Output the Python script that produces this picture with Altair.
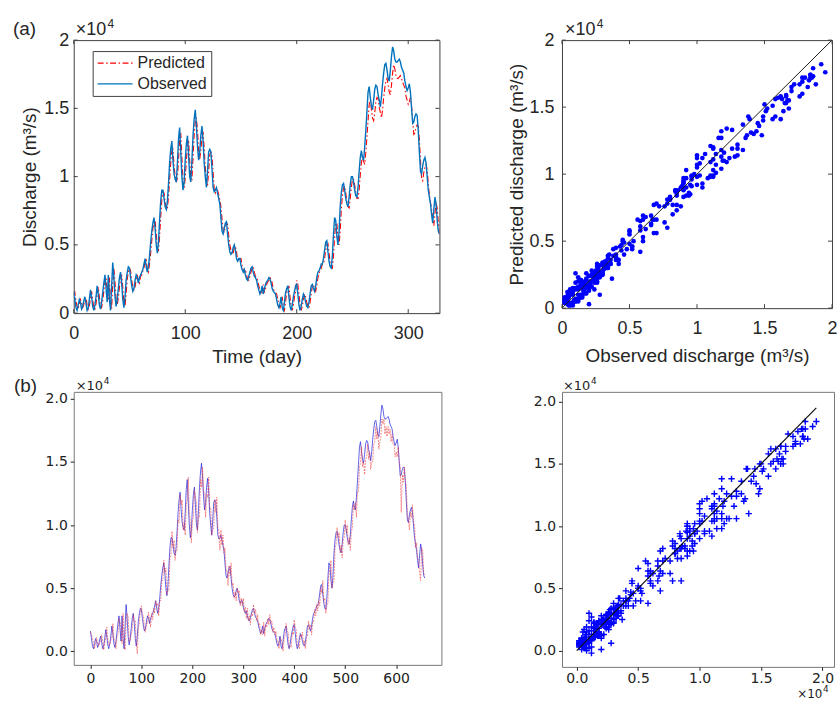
import altair as alt
import pandas as pd

# ---------------- data (discharge in units of 10^4 m^3/s) ----------------
observed = [
    0.16, 0.10, 0.04, 0.02, 0.06, 0.10, 0.08, 0.03, 0.05, 0.09,
    0.12, 0.07, 0.02, 0.04, 0.10, 0.17, 0.12, 0.05, 0.02, 0.06,
    0.12, 0.20, 0.14, 0.06, 0.03, 0.08, 0.15, 0.22, 0.28, 0.18,
    0.08, 0.28, 0.10, 0.02, 0.20, 0.37, 0.26, 0.12, 0.05, 0.10,
    0.18, 0.26, 0.30, 0.22, 0.10, 0.04, 0.12, 0.24, 0.30, 0.34,
    0.33, 0.26, 0.20, 0.16, 0.18, 0.24, 0.28, 0.26, 0.22, 0.26,
    0.28, 0.30, 0.32, 0.36, 0.40, 0.34, 0.30, 0.34, 0.42, 0.52,
    0.60, 0.66, 0.70, 0.62, 0.50, 0.44, 0.52, 0.68, 0.82, 0.90,
    0.90, 0.84, 0.78, 0.76, 0.82, 0.95, 1.10, 1.20, 1.26, 1.12,
    1.02, 0.98, 0.96, 1.10, 1.28, 1.36, 1.18, 1.00, 0.90, 0.96,
    1.12, 1.24, 1.30, 1.16, 1.00, 0.96, 1.12, 1.30, 1.42, 1.49,
    1.38, 1.22, 1.12, 1.18, 1.30, 1.37, 1.26, 1.10, 1.00, 0.92,
    1.04, 1.18, 1.20, 1.18, 1.06, 0.92, 0.89, 0.90, 0.92, 0.88,
    0.84, 0.80, 0.70, 0.60, 0.58, 0.62, 0.66, 0.67, 0.58, 0.50,
    0.45, 0.43, 0.44, 0.48, 0.50, 0.46, 0.40, 0.38, 0.40, 0.40,
    0.35, 0.32, 0.30, 0.32, 0.28, 0.25, 0.24, 0.27, 0.30, 0.33,
    0.34, 0.30, 0.27, 0.26, 0.24, 0.20, 0.17, 0.14, 0.16, 0.20,
    0.14, 0.18, 0.21, 0.23, 0.24, 0.26, 0.25, 0.22, 0.18, 0.16,
    0.15, 0.14, 0.10, 0.06, 0.04, 0.07, 0.12, 0.04, 0.02, 0.08,
    0.15, 0.18, 0.20, 0.12, 0.05, 0.02, 0.06, 0.12, 0.16, 0.20,
    0.21, 0.14, 0.06, 0.02, 0.05, 0.10, 0.14, 0.12, 0.08, 0.05,
    0.04, 0.08, 0.14, 0.20, 0.21, 0.18, 0.16, 0.20, 0.26, 0.30,
    0.31, 0.33, 0.36, 0.36, 0.40, 0.46, 0.52, 0.53, 0.45, 0.38,
    0.34, 0.33, 0.42, 0.58, 0.70, 0.68, 0.56, 0.50, 0.60, 0.78,
    0.88, 0.94, 0.95, 0.90, 0.84, 0.80, 0.78, 0.85, 0.94, 1.00,
    1.00, 0.96, 0.90, 0.86, 0.85, 0.92, 1.04, 1.14, 1.19, 1.14,
    1.12, 1.22, 1.34, 1.48, 1.62, 1.66, 1.58, 1.52, 1.49, 1.56,
    1.64, 1.67, 1.66, 1.60, 1.56, 1.51, 1.58, 1.68, 1.76, 1.82,
    1.83, 1.78, 1.72, 1.70, 1.78, 1.88, 1.95, 1.92, 1.86, 1.84,
    1.84, 1.85, 1.86, 1.84, 1.80, 1.78, 1.76, 1.70, 1.66, 1.63,
    1.65, 1.68, 1.62, 1.50, 1.39, 1.40, 1.44, 1.46, 1.45, 1.34,
    1.18, 1.04, 1.02, 1.08, 1.12, 1.14, 1.10, 1.00, 0.90, 0.85,
    0.80, 0.72, 0.66, 0.76, 0.85, 0.80, 0.68, 0.60, 0.58,
]

predicted_a = [
    0.13, 0.15, 0.09, 0.05, 0.03, 0.07, 0.10, 0.07, 0.04, 0.06,
    0.10, 0.11, 0.06, 0.03, 0.05, 0.11, 0.16, 0.10, 0.04, 0.03,
    0.07, 0.13, 0.19, 0.12, 0.05, 0.04, 0.09, 0.16, 0.23, 0.26,
    0.15, 0.10, 0.26, 0.08, 0.03, 0.22, 0.33, 0.23, 0.10, 0.06,
    0.11, 0.19, 0.25, 0.28, 0.19, 0.08, 0.05, 0.14, 0.25, 0.30,
    0.33, 0.31, 0.24, 0.19, 0.17, 0.19, 0.25, 0.28, 0.24, 0.22,
    0.27, 0.28, 0.31, 0.33, 0.38, 0.39, 0.32, 0.30, 0.36, 0.44,
    0.53, 0.62, 0.66, 0.68, 0.58, 0.47, 0.46, 0.56, 0.70, 0.83,
    0.89, 0.88, 0.81, 0.76, 0.77, 0.85, 0.98, 1.10, 1.19, 1.20,
    1.08, 1.00, 0.96, 0.99, 1.13, 1.27, 1.32, 1.14, 0.97, 0.91,
    0.99, 1.12, 1.22, 1.27, 1.12, 0.99, 0.98, 1.14, 1.30, 1.40,
    1.43, 1.34, 1.19, 1.13, 1.19, 1.29, 1.33, 1.21, 1.07, 0.97,
    0.93, 1.04, 1.16, 1.18, 1.15, 1.03, 0.91, 0.88, 0.90, 0.90,
    0.87, 0.83, 0.78, 0.69, 0.61, 0.59, 0.63, 0.66, 0.65, 0.57,
    0.50, 0.46, 0.43, 0.44, 0.48, 0.49, 0.45, 0.39, 0.38, 0.40,
    0.40, 0.35, 0.32, 0.30, 0.32, 0.28, 0.25, 0.24, 0.27, 0.30,
    0.33, 0.34, 0.30, 0.27, 0.26, 0.24, 0.20, 0.17, 0.14, 0.16,
    0.21, 0.15, 0.18, 0.21, 0.23, 0.24, 0.26, 0.25, 0.22, 0.18,
    0.16, 0.15, 0.14, 0.10, 0.06, 0.04, 0.07, 0.12, 0.04, 0.02,
    0.08, 0.15, 0.18, 0.20, 0.12, 0.05, 0.02, 0.06, 0.12, 0.16,
    0.24, 0.21, 0.14, 0.06, 0.02, 0.05, 0.10, 0.14, 0.12, 0.08,
    0.05, 0.04, 0.08, 0.14, 0.20, 0.21, 0.18, 0.16, 0.20, 0.26,
    0.29, 0.31, 0.33, 0.36, 0.36, 0.40, 0.46, 0.50, 0.51, 0.44,
    0.37, 0.34, 0.33, 0.42, 0.56, 0.66, 0.66, 0.55, 0.50, 0.60,
    0.76, 0.86, 0.92, 0.93, 0.88, 0.82, 0.78, 0.77, 0.84, 0.92,
    0.98, 0.98, 0.94, 0.88, 0.84, 0.84, 0.90, 1.01, 1.10, 1.15,
    1.11, 1.09, 1.18, 1.29, 1.41, 1.53, 1.56, 1.49, 1.43, 1.41,
    1.47, 1.55, 1.58, 1.57, 1.51, 1.47, 1.43, 1.49, 1.58, 1.65,
    1.70, 1.72, 1.67, 1.62, 1.60, 1.67, 1.76, 1.82, 1.79, 1.74,
    1.72, 1.72, 1.73, 1.74, 1.72, 1.69, 1.67, 1.65, 1.59, 1.56,
    1.53, 1.55, 1.58, 1.52, 1.41, 1.31, 1.32, 1.36, 1.38, 1.37,
    1.27, 1.12, 0.99, 0.97, 1.03, 1.07, 1.09, 1.05, 0.95, 0.86,
    0.81, 0.76, 0.69, 0.64, 0.73, 0.81, 0.77, 0.66, 0.58,
]

predicted_b = [
    0.15, 0.13, 0.10, 0.06, 0.02, 0.07, 0.11, 0.06, 0.04, 0.07,
    0.08, 0.13, 0.08, 0.01, 0.06, 0.12, 0.19, 0.09, 0.05, 0.05,
    0.09, 0.10, 0.22, 0.10, 0.07, 0.02, 0.11, 0.13, 0.26, 0.24,
    0.19, 0.06, 0.30, 0.06, 0.01, 0.25, 0.30, 0.27, 0.08, 0.08,
    0.13, 0.17, 0.29, 0.24, 0.24, 0.06, -0.02, 0.18, 0.22, 0.32,
    0.36, 0.29, 0.28, 0.17, 0.15, 0.22, 0.22, 0.31, 0.25, 0.19,
    0.30, 0.25, 0.34, 0.30, 0.40, 0.36, 0.38, 0.28, 0.40, 0.40,
    0.56, 0.56, 0.72, 0.62, 0.66, 0.45, 0.48, 0.48, 0.74, 0.76,
    0.95, 0.82, 0.88, 0.72, 0.80, 0.80, 1.04, 1.02, 1.24, 1.16,
    1.20, 0.96, 1.02, 0.92, 1.16, 1.20, 1.38, 1.10, 1.02, 0.86,
    1.04, 1.06, 1.28, 1.22, 1.18, 0.94, 1.06, 1.06, 1.36, 1.30,
    1.46, 1.26, 1.26, 1.06, 1.24, 1.22, 1.38, 1.14, 1.14, 0.92,
    0.96, 0.98, 1.20, 1.10, 1.22, 0.98, 0.96, 0.80, 0.96, 0.84,
    0.92, 0.78, 0.82, 0.64, 0.64, 0.52, 0.68, 0.60, 0.70, 0.52,
    0.54, 0.42, 0.47, 0.40, 0.50, 0.46, 0.48, 0.36, 0.42, 0.36,
    0.42, 0.31, 0.35, 0.26, 0.34, 0.24, 0.28, 0.21, 0.30, 0.28,
    0.37, 0.30, 0.33, 0.24, 0.29, 0.21, 0.22, 0.13, 0.17, 0.13,
    0.23, 0.12, 0.21, 0.19, 0.26, 0.21, 0.29, 0.22, 0.24, 0.15,
    0.19, 0.13, 0.16, 0.08, 0.08, 0.02, 0.10, 0.10, 0.07, 0.00,
    0.11, 0.12, 0.22, 0.16, 0.15, 0.03, 0.04, 0.03, 0.15, 0.13,
    0.25, 0.18, 0.17, 0.04, 0.04, 0.02, 0.13, 0.11, 0.15, 0.06,
    0.08, 0.02, 0.11, 0.12, 0.24, 0.18, 0.21, 0.13, 0.23, 0.23,
    0.33, 0.28, 0.37, 0.32, 0.40, 0.36, 0.50, 0.46, 0.56, 0.40,
    0.42, 0.30, 0.36, 0.38, 0.62, 0.64, 0.72, 0.50, 0.54, 0.56,
    0.82, 0.84, 0.98, 0.90, 0.94, 0.78, 0.84, 0.74, 0.88, 0.90,
    1.04, 0.94, 1.00, 0.84, 0.90, 0.80, 0.94, 0.98, 1.16, 1.12,
    1.18, 1.06, 1.26, 1.26, 1.46, 1.50, 1.62, 1.46, 1.50, 1.40,
    1.52, 1.54, 1.64, 1.52, 1.58, 1.44, 1.50, 1.50, 1.64, 1.66,
    1.78, 1.68, 1.74, 1.60, 1.66, 1.70, 1.84, 1.80, 1.84, 1.72,
    1.78, 1.70, 1.78, 1.72, 1.76, 1.66, 1.72, 1.64, 1.64, 1.54,
    1.58, 1.54, 1.62, 1.50, 1.46, 1.10, 1.40, 1.34, 1.46, 1.36,
    1.30, 1.08, 1.04, 0.96, 1.10, 1.06, 1.16, 1.02, 1.00, 0.82,
    0.86, 0.74, 0.72, 0.62, 0.56, 0.82, 0.80, 0.62, 0.60,
]

days_a = list(range(len(observed)))            # panel (a): day index
steps_b = [2 * d for d in days_a]               # panel (b): time index
series_names = ["Predicted", "Observed"]

ticks_a_time = [0, 100, 200, 300]
ticks_a_q = [0, 0.5, 1, 1.5, 2]
ticks_b_time = [0, 100, 200, 300, 400, 500, 600]
ticks_b_q = [0, 0.5, 1.0, 1.5, 2.0]
diag_a = [0, 2]
diag_b = [0, max(observed)]

MFONT = "Liberation Sans"
PFONT = "DejaVu Sans"
MTXT = "#262626"

# ---------------- helpers ----------------
def txt(s, x, y, size, font, align="left", baseline="alphabetic", color=MTXT):
    return alt.Chart(pd.DataFrame({"t": [s]})).mark_text(
        align=align, baseline=baseline, fontSize=size, font=font, color=color
    ).encode(text="t:N", x=alt.value(x), y=alt.value(y))


def inward_ticks(values, channel, w, h, scale, axis, L=4):
    df = pd.DataFrame({"v": values})
    base = alt.Chart(df).mark_rule(color="#404040", strokeWidth=1)
    if channel == "x":
        enc = alt.X("v:Q", scale=scale, axis=axis)
        return (base.encode(x=enc, y=alt.value(h), y2=alt.value(h - L))
                + base.encode(x=enc, y=alt.value(0), y2=alt.value(L)))
    enc = alt.Y("v:Q", scale=scale, axis=axis)
    return (base.encode(y=enc, x=alt.value(0), x2=alt.value(L))
            + base.encode(y=enc, x=alt.value(w - L), x2=alt.value(w)))


def m_axis(values, fmt, title, tx, ty, pad, vertical=False):
    kw = dict(values=values, format=fmt, title=title, grid=False, domain=False,
              ticks=False, tickSize=0, labelPadding=pad, labelFont=MFONT,
              labelFontSize=18, labelColor=MTXT, labelFlush=False,
              titleFont=MFONT, titleFontSize=19, titleFontWeight="normal",
              titleColor=MTXT, titleX=tx, titleY=ty, titleBaseline="middle",
              titleAlign="center")
    if vertical:
        kw["titleAngle"] = 270
    return alt.Axis(**kw)


# ---------------- panel (a) left: time series ----------------
WA, HA = 367, 274
xs_a = alt.Scale(domain=[0, 328], nice=False, zero=False)
ys_a = alt.Scale(domain=[0, 2], nice=False)

long_a = pd.DataFrame({
    "day": days_a * 2,
    "q": predicted_a + observed,
    "series": [series_names[0]] * len(days_a) + [series_names[1]] * len(days_a),
})

x_axis_a = m_axis(ticks_a_time, "d", "Time (day)", WA / 2, 44, 11)
y_axis_a = m_axis(ticks_a_q, "~g", "Discharge (m³/s)", -44, HA / 2, 5, vertical=True)

color_sc = alt.Scale(domain=series_names, range=["#FF0000", "#0072BD"])
dash_sc = alt.Scale(domain=series_names, range=[[6, 2.5, 1.5, 2.5], [1, 0]])
leg = alt.Legend(orient="none", legendX=19, legendY=11, title=None, fillColor="white",
                 strokeColor="#404040", padding=4, labelFont=MFONT, labelFontSize=16,
                 labelColor=MTXT, symbolSize=1225, symbolStrokeWidth=1.3, rowPadding=5,
                 labelOffset=4, clipHeight=16, cornerRadius=0)

line_base = alt.Chart(long_a).mark_line(clip=True).encode(
    x=alt.X("day:Q", scale=xs_a, axis=x_axis_a),
    y=alt.Y("q:Q", scale=ys_a, axis=y_axis_a),
    color=alt.Color("series:N", scale=color_sc, legend=leg),
    strokeDash=alt.StrokeDash("series:N", scale=dash_sc, legend=leg),
)
pred_line_a = line_base.transform_filter(alt.datum.series == "Predicted").mark_line(
    clip=True, strokeWidth=1.1)
obs_line_a = line_base.transform_filter(alt.datum.series == "Observed").mark_line(
    clip=True, strokeWidth=1.4)

anchor = alt.Chart(pd.DataFrame({"a": [0]})).mark_rect(opacity=0).encode(
    x=alt.value(-73), x2=alt.value(-72), y=alt.value(-38), y2=alt.value(-37))

panel_a_left = alt.layer(
    anchor,
    pred_line_a, obs_line_a,
    inward_ticks(ticks_a_time, "x", WA, HA, xs_a, x_axis_a),
    inward_ticks(ticks_a_q, "y", WA, HA, ys_a, y_axis_a),
    txt("(a)", -61, -5, 19, MFONT),
    txt("×10", 2, -5, 18, MFONT),
    txt("4", 34, -12, 12, MFONT),
).properties(width=WA, height=HA, view=alt.ViewBackground(stroke="#404040", strokeWidth=1))

# ---------------- panel (a) right: scatter ----------------
WB, HB = 271, 269
s_a = alt.Scale(domain=[0, 2], nice=False)
sc_a = pd.DataFrame({"obs": observed, "pred": predicted_a})

x_axis_as = m_axis(ticks_a_q, "~g", "Observed discharge (m³/s)", WB / 2, 48, 11)
y_axis_as = m_axis(ticks_a_q, "~g", "Predicted discharge (m³/s)", -46, HB / 2, 8,
                   vertical=True)

pts_a = alt.Chart(sc_a).mark_circle(size=22, color="#0000FF", opacity=1).encode(
    x=alt.X("obs:Q", scale=s_a, axis=x_axis_as),
    y=alt.Y("pred:Q", scale=s_a, axis=y_axis_as),
)
diag_line_a = alt.Chart(pd.DataFrame({"v": diag_a})).mark_line(
    color="#1a1a1a", strokeWidth=1).encode(
    x=alt.X("v:Q", scale=s_a, axis=x_axis_as), y=alt.Y("v:Q", scale=s_a, axis=y_axis_as))

panel_a_right = alt.layer(
    pts_a, diag_line_a,
    inward_ticks(ticks_a_q, "x", WB, HB, s_a, x_axis_as),
    inward_ticks(ticks_a_q, "y", WB, HB, s_a, y_axis_as),
    txt("×10", 3, -5, 18, MFONT),
    txt("4", 35, -12, 12, MFONT),
).properties(width=WB, height=HB, view=alt.ViewBackground(stroke="#404040", strokeWidth=1))

# ---------------- panel (b) left: time series ----------------
WC, HC = 369, 274
xs_b = alt.Scale(domain=[-32.8, 688.8], nice=False, zero=False)
ys_b = alt.Scale(domain=[-0.108, 2.055], nice=False, zero=False)
ts_b = pd.DataFrame({"t": steps_b, "obs": observed, "pred": predicted_b})

def py_axis(values, fmt, pad=3):
    return alt.Axis(values=values, format=fmt, title=None, grid=False, domain=False,
                    ticks=True, tickSize=3.5, tickColor="#222", labelPadding=pad,
                    labelFont=PFONT, labelFontSize=14, labelColor="#222",
                    labelFlush=False)

bx_axis = py_axis(ticks_b_time, "d")
by_axis = py_axis(ticks_b_q, ".1f")
blue_b = alt.Chart(ts_b).mark_line(color="#2222DD", strokeWidth=1, opacity=0.7).encode(
    x=alt.X("t:Q", scale=xs_b, axis=bx_axis),
    y=alt.Y("obs:Q", scale=ys_b, axis=by_axis),
)
red_b = alt.Chart(ts_b).mark_line(color="#EE3333", strokeWidth=1, opacity=0.55,
                                  strokeDash=[2, 1]).encode(
    x=alt.X("t:Q", scale=xs_b, axis=bx_axis), y=alt.Y("pred:Q", scale=ys_b, axis=by_axis))

panel_b_left = alt.layer(
    blue_b, red_b,
    txt("(b)", -60, 0, 19, MFONT),
    txt("×10", 2, -2, 13, PFONT, color="#222"),
    txt("4", 30, -8, 9, PFONT, color="#222"),
).properties(width=WC, height=HC, view=alt.ViewBackground(stroke="#777777", strokeWidth=1))

# ---------------- panel (b) right: scatter ----------------
WD, HD = 273, 276
xs_bs = alt.Scale(domain=[-0.12, 2.094], nice=False, zero=False)
ys_bs = alt.Scale(domain=[-0.13, 2.078], nice=False, zero=False)
sc_b = pd.DataFrame({"obs": observed, "pred": predicted_b})
bqx_axis = py_axis(ticks_b_q, ".1f", pad=1.5)
bqy_axis = py_axis(ticks_b_q, ".1f")

pts_b = alt.Chart(sc_b).mark_point(shape="M-1,0L1,0M0,-1L0,1", filled=False, size=40,
                                   color="#0000FF", strokeWidth=1.4, opacity=1).encode(
    x=alt.X("obs:Q", scale=xs_bs, axis=bqx_axis),
    y=alt.Y("pred:Q", scale=ys_bs, axis=bqy_axis),
)
diag_line_b = alt.Chart(pd.DataFrame({"v": diag_b})).mark_line(
    color="#111111", strokeWidth=1.2).encode(
    x=alt.X("v:Q", scale=xs_bs, axis=bqx_axis), y=alt.Y("v:Q", scale=ys_bs, axis=bqy_axis))

panel_b_right = alt.layer(
    pts_b, diag_line_b,
    txt("×10", 1, -2, 13, PFONT, color="#222"),
    txt("4", 29, -8, 9, PFONT, color="#222"),
    txt("×10", 236, 307.5, 12, PFONT, color="#222"),
    txt("4", 262, 301.5, 9, PFONT, color="#222"),
).properties(width=WD, height=HD, view=alt.ViewBackground(stroke="#777777", strokeWidth=1))

# ---------------- layout: 2x2 grid, columns sized independently ----------------
chart = alt.concat(
    panel_a_left, panel_a_right, panel_b_left, panel_b_right,
    columns=2, spacing=alt.RowColnumber(row=79, column=121),
    bounds="flush", align="each",
).properties(
    padding=0, background="white"
).resolve_scale(color="independent", strokeDash="independent")

chart.save("out.html", embed_options={"renderer": "svg", "actions": False})
